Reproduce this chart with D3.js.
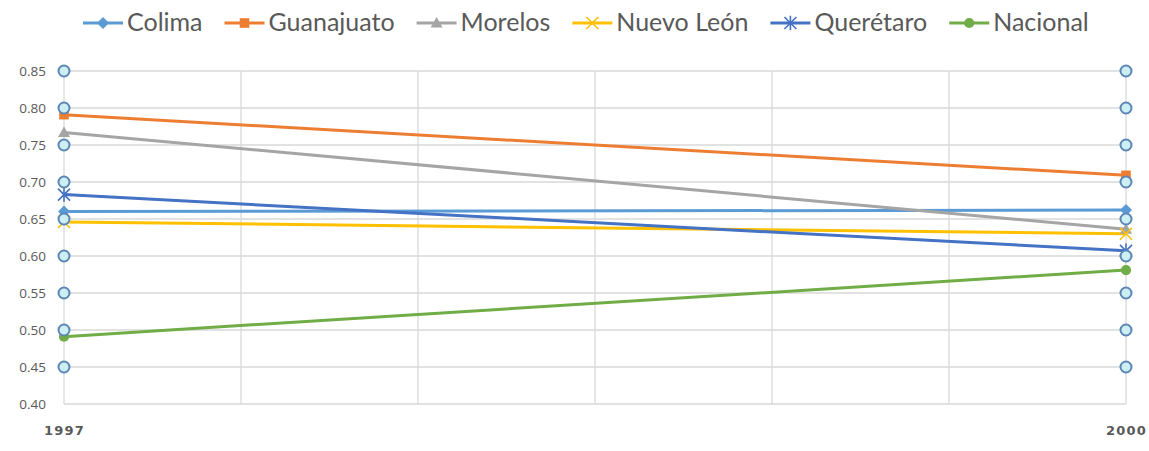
<!DOCTYPE html>
<html>
<head>
<meta charset="utf-8">
<script src="https://cdn.jsdelivr.net/npm/d3@7"></script>
<style>
  html, body { margin: 0; padding: 0; background: #fff; }
  svg { display: block; }
</style>
</head>
<body>
<svg id="chart" width="1149" height="451"></svg>
<script>
// Years on the category axis
const years = [1997, 2000];

// Series names, colours and values per year
const seriesNames = ["Colima", "Guanajuato", "Morelos", "Nuevo León", "Querétaro", "Nacional"];
const seriesColors = ["#5B9BD5", "#ED7D31", "#A5A5A5", "#FFC000", "#4472C4", "#70AD47"];
const seriesMarkers = ["diamond", "square", "triangle", "x", "star", "circle"];
const colima     = [0.660, 0.662];
const guanajuato = [0.791, 0.709];
const morelos    = [0.767, 0.636];
const nuevoLeon  = [0.646, 0.630];
const queretaro  = [0.683, 0.607];
const nacional   = [0.491, 0.581];
const seriesValues = [colima, guanajuato, morelos, nuevoLeon, queretaro, nacional];

// Value-axis tick labels and the ring markers placed on both edges
const yTicks = [0.40, 0.45, 0.50, 0.55, 0.60, 0.65, 0.70, 0.75, 0.80, 0.85];
const ringValues = [0.45, 0.50, 0.55, 0.60, 0.65, 0.70, 0.75, 0.80, 0.85];

const svg = d3.select("#chart");
const plotLeft = 64, plotRight = 1126, plotTop = 71, plotBottom = 404;

const x = d3.scaleLinear().domain([1997, 2000]).range([plotLeft, plotRight]);
const y = d3.scaleLinear().domain([0.40, 0.85]).range([plotBottom, plotTop]);

// Gridlines
const grid = svg.append("g");
grid.selectAll("line.h").data(yTicks).join("line")
  .attr("x1", plotLeft).attr("x2", plotRight)
  .attr("y1", d => y(d)).attr("y2", d => y(d))
  .attr("stroke", "#d9d9d9").attr("stroke-width", 1.3);
const xGrid = d3.range(0, 7).map(i => 1997 + i * 0.5);
grid.selectAll("line.v").data(xGrid).join("line")
  .attr("x1", d => x(d)).attr("x2", d => x(d))
  .attr("y1", plotTop).attr("y2", plotBottom)
  .attr("stroke", "#d9d9d9").attr("stroke-width", 1.3);

// Y axis labels
const yAxis = d3.axisLeft(y).tickValues(yTicks).tickFormat(d3.format(".2f")).tickSize(0).tickPadding(18);
svg.append("g").attr("transform", `translate(${plotLeft},0)`).call(yAxis)
  .call(g => g.select(".domain").remove())
  .call(g => g.selectAll("text").attr("fill", "#595959")
    .style("font-family", "'Open Sans', 'DejaVu Sans', sans-serif").style("font-size", "13.5px"));

// X axis labels
const xAxis = d3.axisBottom(x).tickValues(years).tickFormat(d3.format("d")).tickSize(0).tickPadding(22);
svg.append("g").attr("transform", `translate(0,${plotBottom})`).call(xAxis)
  .call(g => g.select(".domain").remove())
  .call(g => g.selectAll("text").attr("fill", "#595959")
    .style("font-family", "'DejaVu Sans', sans-serif").style("font-size", "13px")
    .style("font-weight", "bold").attr("letter-spacing", "1.2px"));

// Marker drawing helper
function drawMarker(g, type, color, cx, cy, s) {
  const m = g.append("g").attr("transform", `translate(${cx},${cy})`);
  if (type === "diamond") {
    m.append("path").attr("d", `M0,${-s}L${s},0L0,${s}L${-s},0Z`).attr("fill", color);
  } else if (type === "square") {
    m.append("rect").attr("x", -s * 0.8).attr("y", -s * 0.8).attr("width", s * 1.6).attr("height", s * 1.6).attr("fill", color);
  } else if (type === "triangle") {
    m.append("path").attr("d", `M0,${-s}L${s},${s * 0.75}L${-s},${s * 0.75}Z`).attr("fill", color);
  } else if (type === "x") {
    m.append("path").attr("d", `M${-s},${-s}L${s},${s}M${-s},${s}L${s},${-s}`).attr("stroke", color).attr("stroke-width", 1.6);
  } else if (type === "star") {
    m.append("path").attr("d", `M${-s},${-s}L${s},${s}M${-s},${s}L${s},${-s}M0,${-s * 1.2}L0,${s * 1.2}`).attr("stroke", color).attr("stroke-width", 1.6);
  } else if (type === "circle") {
    m.append("circle").attr("r", s * 0.85).attr("fill", color);
  }
}

// Series lines
const line = d3.line().x((d, i) => x(years[i])).y(d => y(d));
const plot = svg.append("g");
seriesValues.forEach((vals, k) => {
  plot.append("path").datum(vals).attr("d", line)
    .attr("fill", "none").attr("stroke", seriesColors[k]).attr("stroke-width", 3);
});
seriesValues.forEach((vals, k) => {
  vals.forEach((v, i) => drawMarker(plot, seriesMarkers[k], seriesColors[k], x(years[i]), y(v), 6));
});

// Ring markers along both edges
const rings = svg.append("g");
years.forEach(yr => {
  rings.selectAll(null).data(ringValues).join("circle")
    .attr("cx", x(yr)).attr("cy", d => y(d)).attr("r", 5.5)
    .attr("fill", "#cdeff4").attr("stroke", "#5b86b5").attr("stroke-width", 2);
});

// Legend
const legend = svg.append("g").attr("transform", "translate(83,23)");
let lx = 0;
seriesNames.forEach((name, k) => {
  const item = legend.append("g").attr("transform", `translate(${lx},0)`);
  item.append("line").attr("x1", 0).attr("x2", 40).attr("y1", 0).attr("y2", 0)
    .attr("stroke", seriesColors[k]).attr("stroke-width", 3);
  drawMarker(item, seriesMarkers[k], seriesColors[k], 20, 0, 6);
  const t = item.append("text").attr("x", 44).attr("y", 0).attr("dy", "0.33em")
    .attr("fill", "#595959")
    .style("font-family", "Lato, 'Open Sans', sans-serif").style("font-size", "25px")
    .text(name);
  const w = t.node().getComputedTextLength();
  lx += 44 + w + 22;
});
</script>
</body>
</html>
